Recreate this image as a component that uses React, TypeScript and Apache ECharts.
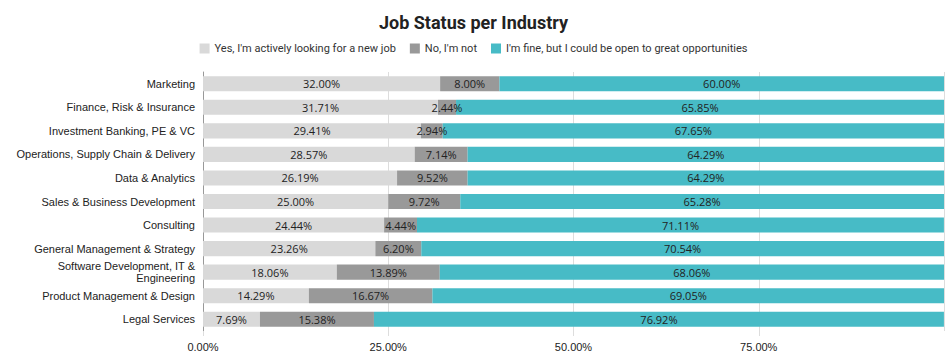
import React, { useEffect, useRef } from "react";
import * as echarts from "echarts";

const industries = [
  "Marketing",
  "Finance, Risk & Insurance",
  "Investment Banking, PE & VC",
  "Operations, Supply Chain & Delivery",
  "Data & Analytics",
  "Sales & Business Development",
  "Consulting",
  "General Management & Strategy",
  "Software Development, IT & Engineering",
  "Product Management & Design",
  "Legal Services",
];

const seriesNames = [
  "Yes, I'm actively looking for a new job",
  "No, I'm not",
  "I'm fine, but I could be open to great opportunities",
];

const activelyLooking = [32.0, 31.71, 29.41, 28.57, 26.19, 25.0, 24.44, 23.26, 18.06, 14.29, 7.69];
const notLooking = [8.0, 2.44, 2.94, 7.14, 9.52, 9.72, 4.44, 6.2, 13.89, 16.67, 15.38];
const openToOffers = [60.0, 65.85, 67.65, 64.29, 64.29, 65.28, 71.11, 70.54, 68.06, 69.05, 76.92];

const xTicks = [0, 25, 50, 75, 100];

const colors = ["#d9d9d9", "#999999", "#47bbc6"];

function wrapLabel(value: string): string {
  if (value.length <= 36) return value;
  const cut = value.lastIndexOf(" ", 27);
  return value.slice(0, cut) + "\n" + value.slice(cut + 1);
}

export default function App() {
  const ref = useRef<HTMLDivElement>(null);
  useEffect(() => {
    if (!ref.current) return;
    const chart = echarts.init(ref.current, null, { renderer: "svg" });
    const values = [activelyLooking, notLooking, openToOffers];
    chart.setOption({
      animation: false,
      title: {
        text: "Job Status per Industry",
        left: "center",
        top: 8,
        textStyle: { fontFamily: "Roboto", fontWeight: "bold", fontSize: 18, color: "#222" },
      },
      legend: {
        top: 38,
        left: "center",
        itemWidth: 10,
        itemHeight: 10,
        itemGap: 14,
        icon: "rect",
        textStyle: { fontFamily: "Roboto", fontSize: 11, color: "#333" },
        data: seriesNames,
      },
      grid: { left: 203, right: 3, top: 72, bottom: 22, containLabel: false },
      xAxis: {
        type: "value",
        min: xTicks[0],
        max: xTicks[xTicks.length - 1],
        interval: 25,
        axisLine: { show: false },
        axisTick: { show: true, length: 5, lineStyle: { color: "#dddddd" } },
        splitLine: { show: true, lineStyle: { color: "#dddddd" } },
        axisLabel: {
          showMaxLabel: false,
          margin: 10,
          fontFamily: "'Liberation Sans', Arial",
          fontSize: 11,
          color: "#222",
          formatter: (v: number) => v.toFixed(2) + "%",
        },
      },
      yAxis: {
        type: "category",
        inverse: true,
        data: industries,
        axisLine: { show: true, lineStyle: { color: "#999999" } },
        axisTick: { show: false },
        axisLabel: {
          margin: 8,
          fontFamily: "'Liberation Sans', Arial",
          fontSize: 11,
          color: "#222",
          lineHeight: 12,
          formatter: (v: string) => wrapLabel(v),
        },
      },
      series: seriesNames.map((name, i) => ({
        name,
        type: "bar",
        stack: "total",
        barCategoryGap: "36%",
        data: values[i],
        itemStyle: { color: colors[i] },
        label: {
          show: true,
          position: "inside",
          fontFamily: "Open Sans",
          fontSize: 11,
          color: "#222",
          formatter: (p: any) => Number(p.value).toFixed(2) + "%",
        },
      })),
    });
    return () => chart.dispose();
  }, []);
  return (
    <div
      ref={ref}
      style={{ position: "absolute", left: 0, top: 0, width: 947, height: 353 }}
    />
  );
}
